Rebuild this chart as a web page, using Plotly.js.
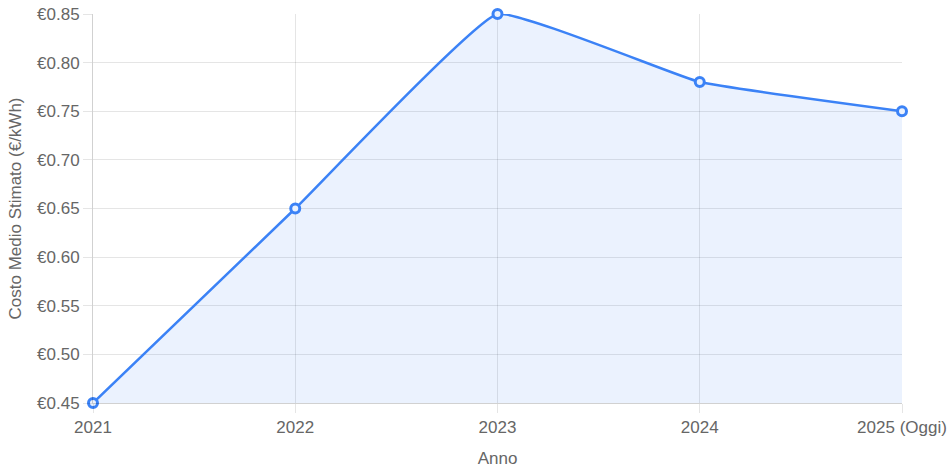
<!DOCTYPE html>
<html>
<head>
<meta charset="utf-8">
<script src="https://cdn.plot.ly/plotly-3.0.1.min.js"></script>
<style>html,body{margin:0;padding:0;background:#fff;}#chart{width:951px;height:475px;}</style>
</head>
<body>
<div id="chart"></div>
<script>
const years = ["2021", "2022", "2023", "2024", "2025 (Oggi)"];
const costs = [0.45, 0.65, 0.85, 0.78, 0.75];
const yTicks = [0.45, 0.50, 0.55, 0.60, 0.65, 0.70, 0.75, 0.80, 0.85];
const yTickText = yTicks.map(v => "€" + v.toFixed(2));

const blue = "#3b82f6";
const fillBlue = "rgba(59,130,246,0.1)";
const gridCol = "rgba(0,0,0,0.1)";

Plotly.newPlot("chart", [{
  x: years,
  y: costs,
  type: "scatter",
  mode: "lines+markers",
  fill: "tozeroy",
  fillcolor: fillBlue,
  line: {color: blue, width: 2.5, shape: "spline", smoothing: 0.3},
  marker: {size: 9, color: "rgba(235,242,254,1)", line: {color: blue, width: 3}},
  hoverinfo: "none",
  cliponaxis: false
}], {
  width: 951, height: 475,
  margin: {l: 93, r: 49, t: 14, b: 72},
  paper_bgcolor: "#fff", plot_bgcolor: "#fff",
  showlegend: false,
  font: {family: "Liberation Sans, Arial, sans-serif", color: "#666", size: 17},
  xaxis: {
    type: "category", range: [0, 4],
    showgrid: true, gridcolor: gridCol, gridwidth: 1,
    showline: true, linecolor: "rgba(0,0,0,0.18)", linewidth: 1,
    ticks: "outside", ticklen: 9, tickcolor: gridCol,
    tickfont: {size: 17, color: "#666"},
    zeroline: false,
    title: {text: "Anno", font: {size: 17, color: "#666"}, standoff: 15}
  },
  yaxis: {
    range: [0.45, 0.85],
    tickmode: "array", tickvals: yTicks, ticktext: yTickText,
    showgrid: true, gridcolor: gridCol, gridwidth: 1,
    showline: true, linecolor: "rgba(0,0,0,0.18)", linewidth: 1,
    ticks: "outside", ticklen: 9, tickcolor: gridCol,
    tickfont: {size: 17, color: "#666"},
    zeroline: false,
    title: {text: "Costo Medio Stimato (€/kWh)", font: {size: 17, color: "#666"}, standoff: 11}
  }
}, {displayModeBar: false, staticPlot: true});
</script>
</body>
</html>
